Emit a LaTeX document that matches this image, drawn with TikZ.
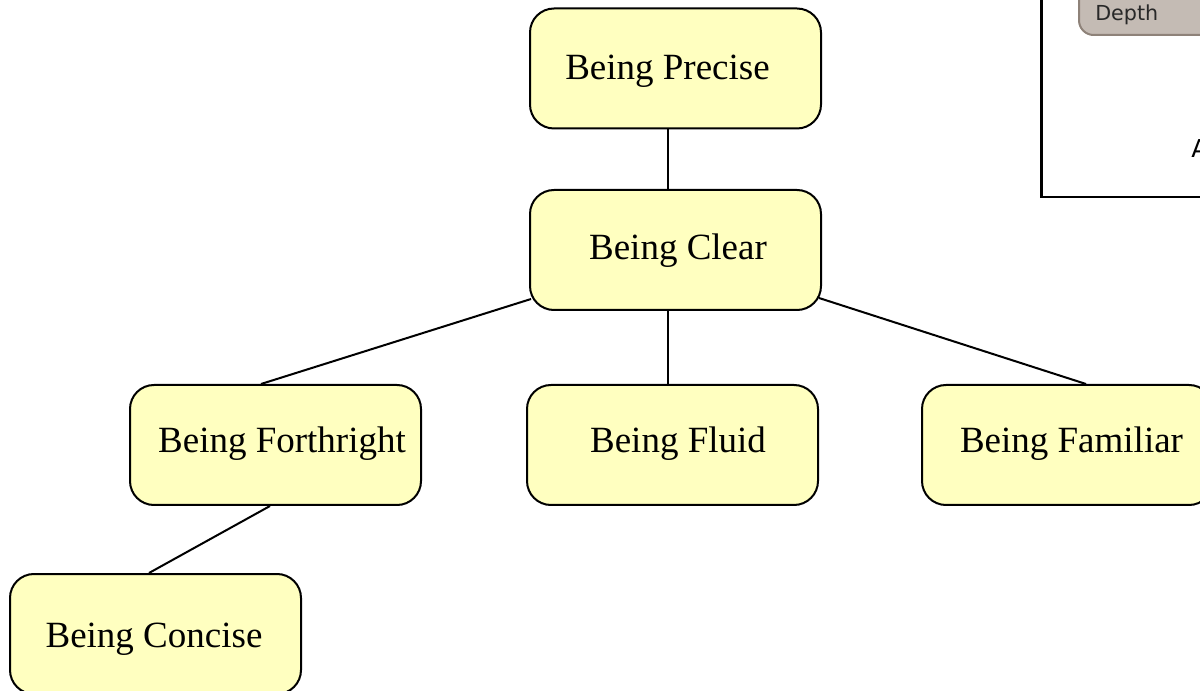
\documentclass[tikz,border=0pt]{standalone}
\usepackage{fontspec}
\setmainfont{Liberation Serif}
\newfontfamily\dejavu{DejaVu Sans}
\usetikzlibrary{calc}
\definecolor{boxfill}{RGB}{255,255,192}
\definecolor{tabfill}{RGB}{196,187,180}
\definecolor{tabline}{RGB}{142,130,121}
\definecolor{tabtext}{RGB}{40,40,40}
\tikzset{
  x=0.75pt, y=-0.75pt,
  box/.style={draw=black, line width=1.5pt, fill=boxfill, rounded corners=18pt,
    minimum width=218.25pt, minimum height=90pt, inner sep=0pt},
  lbl/.style={anchor=base, inner sep=0pt, font=\fontsize{27.75}{32}\selectfont},
  conn/.style={draw=black, line width=1.5pt},
}
\begin{document}
\begin{tikzpicture}
\useasboundingbox (0,0) rectangle (1200,691);
\clip (0,0) rectangle (1200,691);
% legend frame
\draw[line width=2.2pt] (1041.5,-20) -- (1041.5,197) -- (1220,197);
\draw[fill=tabfill, draw=tabline, line width=1.5pt, rounded corners=11pt]
  (1079,-20) -- (1079,35) -- (1220,35) -- (1220,-20) -- cycle;
\node[anchor=base west, inner sep=0pt, text=tabtext, font=\dejavu\fontsize{15.5}{18}\selectfont] (depth) at (1095,21) {Depth};
\node[anchor=base west, inner sep=0pt, font=\dejavu\fontsize{18.5}{22}\selectfont] (legA) at (1191,158) {A};
% boxes
\node[box] (precise) at (675.5,68.5) {};
\node[box] (clear) at (675.5,250) {};
\node[box] (forth) at (275.5,445) {};
\node[box] (fluid) at (672.5,445) {};
\node[box] (famil) at (1067.5,445) {};
\node[box] (conc) at (155.5,634) {};
% labels
\node[lbl] (preciseT) at (667.5,80) {Being Precise};
\node[lbl] (clearT) at (678,260) {Being Clear};
\node[lbl] (forthT) at (282,453) {Being Forthright};
\node[lbl] (fluidT) at (678,453) {Being Fluid};
\node[lbl] (familT) at (1071.5,453) {Being Familiar};
\node[lbl] (concT) at (154,647) {Being Concise};
% connectors
\draw[conn] ($(precise.south)+(-7.5,0)$) -- ($(clear.north)+(-7.5,0)$);
\draw[conn] ($(clear.south)+(-7.5,0)$) -- ($(fluid.north)+(-4.5,0)$);
\draw[conn] ($(clear.south west)+(2,-12)$) -- ($(forth.north)+(-14.5,0)$);
\draw[conn] ($(clear.south east)+(-3,-13)$) -- ($(famil.north)+(18.5,0)$);
\draw[conn] ($(forth.south)+(-5.5,0)$) -- ($(conc.north)+(-6.5,0)$);
\end{tikzpicture}
\end{document}
